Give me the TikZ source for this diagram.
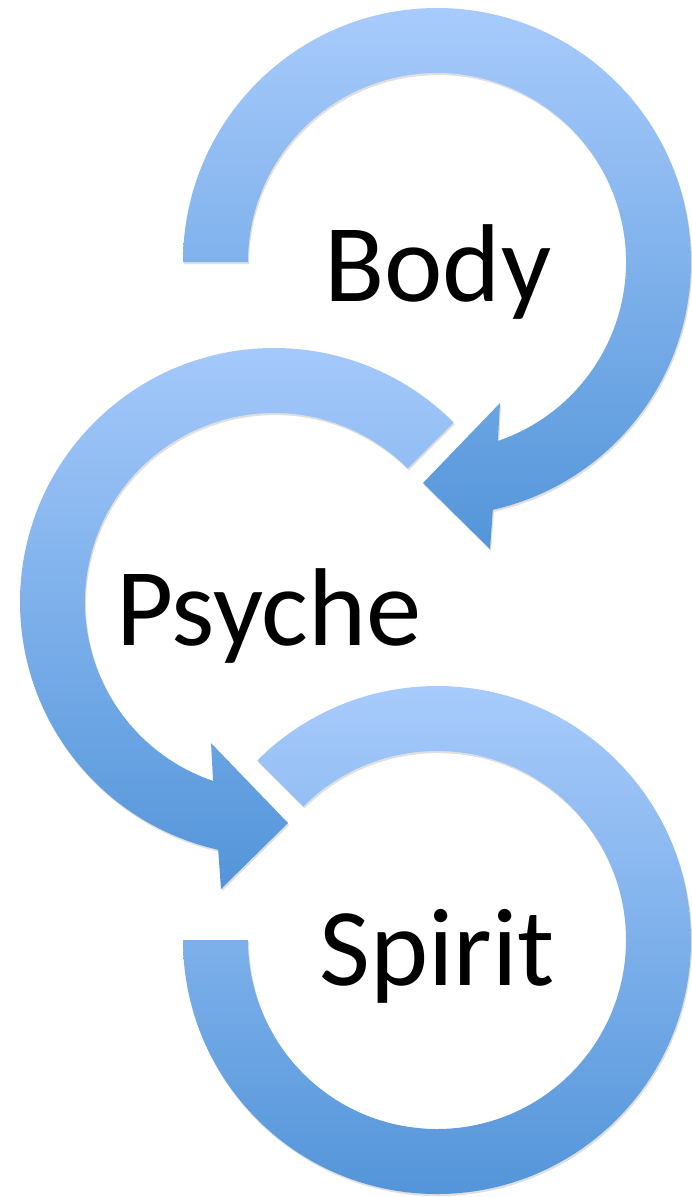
\documentclass[tikz,border=0pt]{standalone}
\usepackage{fontspec}
\setmainfont{Carlito}
\usetikzlibrary{shadows,calc}

\definecolor{ringtop}{RGB}{168,203,252}
\definecolor{ringbottom}{RGB}{83,149,217}

\tikzstyle{ring}=[top color=ringtop,bottom color=ringbottom,draw=none,
  drop shadow={shadow xshift=0.6pt,shadow yshift=-1.2pt,opacity=0.25}]
\tikzstyle{word}=[anchor=base west,inner sep=0pt,
  font=\fontsize{63pt}{70pt}\selectfont]

\begin{document}
\begin{tikzpicture}[x=0.02cm,y=0.02cm]
			\useasboundingbox (0,0) rectangle (692,-1197);
			\coordinate (c1) at (437,-262);
			\coordinate (c2) at (274,-602);
			\coordinate (c3) at (437,-940);
			% First we draw the arrows
			\path[ring] ($(c1)+(180:254)$) arc[start angle=180,end angle=-77.3,radius=254]
				-- ($(c1)+(53,-287)$) -- ($(c1)+(-14,-221)$) -- ($(c1)+(63,-141)$)
				-- ($(c1)+(-71.2:189)$) arc[start angle=-71.2,end angle=180,radius=189] -- cycle;
			\path[ring] ($(c2)+(45:254)$) arc[start angle=45,end angle=257.3,radius=254]
				-- ($(c2)+(-53,-287)$) -- ($(c2)+(14,-221)$) -- ($(c2)+(-63,-141)$)
				-- ($(c2)+(251.2:189)$) arc[start angle=251.2,end angle=45,radius=189] -- cycle;
			\path[ring] ($(c3)+(180:254)$) arc[start angle=180,end angle=495,radius=254]
				-- ($(c3)+(495:189)$) arc[start angle=495,end angle=180,radius=189] -- cycle;
			% Then the words
			\node[word] (body) at (324,-301) {Body};
			\node[word] (psyche) at (116,-645) {Psyche};
			\node[word] (spirit) at (319,-985) {Spirit};
		\end{tikzpicture}
\end{document}
